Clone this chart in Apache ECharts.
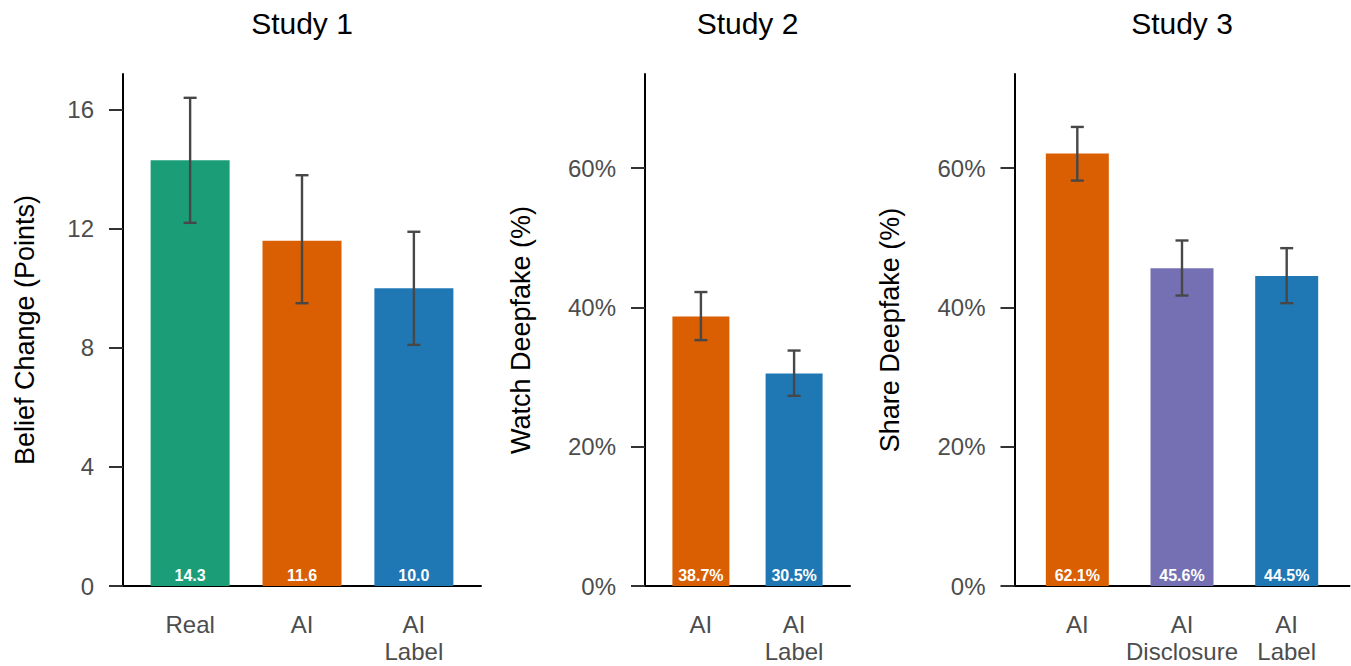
<!DOCTYPE html>
<html>
<head>
<meta charset="utf-8">
<script src="https://cdn.jsdelivr.net/npm/echarts@6/dist/echarts.min.js"></script>
<style>
html,body{margin:0;padding:0;background:#fff;}
#chart{width:1351px;height:666px;}
</style>
</head>
<body>
<div id="chart"></div>
<script>
// ---- Data ----
const study1Categories = ['Real', 'AI', 'AI\nLabel'];
const study1Values = [14.3, 11.6, 10.0];
const study1Low = [12.2, 9.5, 8.1];
const study1High = [16.4, 13.8, 11.9];
const study1Ticks = [0, 4, 8, 12, 16];

const study2Categories = ['AI', 'AI\nLabel'];
const study2Values = [38.7, 30.5];
const study2Low = [35.3, 27.3];
const study2High = [42.2, 33.8];
const study2Ticks = [0, 20, 40, 60];

const study3Categories = ['AI', 'AI\nDisclosure', 'AI\nLabel'];
const study3Values = [62.1, 45.6, 44.5];
const study3Low = [58.2, 41.7, 40.6];
const study3High = [65.9, 49.6, 48.5];
const study3Ticks = [0, 20, 40, 60];

const studyTitles = ['Study 1', 'Study 2', 'Study 3'];
const yAxisNames = ['Belief Change (Points)', 'Watch Deepfake (%)', 'Share Deepfake (%)'];

// ---- Styles ----
const GREEN = '#1b9e77', ORANGE = '#d95f02', BLUE = '#1f78b4', PURPLE = '#7570b3';
const panels = [
  {cats: study1Categories, vals: study1Values, low: study1Low, high: study1High, ticks: study1Ticks,
   colors: [GREEN, ORANGE, BLUE], pct: false, yMax: 17.2,
   grid: {left: 123, top: 74, width: 358, height: 512}, barWidth: 79, nameGap: 85},
  {cats: study2Categories, vals: study2Values, low: study2Low, high: study2High, ticks: study2Ticks,
   colors: [ORANGE, BLUE], pct: true, yMax: 73.5,
   grid: {left: 645, top: 74, width: 205, height: 512}, barWidth: 57, nameGap: 111},
  {cats: study3Categories, vals: study3Values, low: study3Low, high: study3High, ticks: study3Ticks,
   colors: [ORANGE, PURPLE, BLUE], pct: true, yMax: 73.5,
   grid: {left: 1014.5, top: 74, width: 335, height: 512}, barWidth: 63, nameGap: 111}
];

const FONT = '"Liberation Sans", Arial, Helvetica, sans-serif';
const grids = [], xAxes = [], yAxes = [], series = [], titles = [];

panels.forEach((p, i) => {
  grids.push(Object.assign({containLabel: false}, p.grid));
  const n = p.cats.length;
  const positions = p.cats.map((c, k) => k + 1);
  titles.push({
    text: studyTitles[i],
    left: p.grid.left + p.grid.width / 2,
    top: 8,
    textAlign: 'center',
    padding: 0,
    textStyle: {fontSize: 30, fontWeight: 'normal', color: '#000', fontFamily: FONT}
  });
  xAxes.push({
    gridIndex: i, type: 'value', min: 0.4, max: n + 0.6,
    axisLine: {show: true, onZero: false, lineStyle: {color: '#000', width: 2}},
    axisTick: {show: false},
    splitLine: {show: false},
    axisLabel: {
      customValues: positions,
      formatter: v => p.cats[Math.round(v) - 1] || '',
      color: '#4d4d4d', fontSize: 24, lineHeight: 27, margin: 25, fontFamily: FONT
    }
  });
  yAxes.push({
    gridIndex: i, type: 'value', min: 0, max: p.yMax,
    name: yAxisNames[i], nameLocation: 'middle', nameGap: p.nameGap,
    nameTextStyle: {fontSize: 27, color: '#000', fontFamily: FONT},
    axisLine: {show: true, onZero: false, lineStyle: {color: '#000', width: 2}},
    axisTick: {show: true, length: 14, customValues: p.ticks, lineStyle: {color: '#333', width: 2}},
    splitLine: {show: false},
    axisLabel: {
      customValues: p.ticks,
      formatter: v => p.pct ? v + '%' : String(v),
      color: '#4d4d4d', fontSize: 24, margin: 29, fontFamily: FONT
    }
  });
  series.push({
    type: 'bar', xAxisIndex: i, yAxisIndex: i, barWidth: p.barWidth,
    data: p.vals.map((v, k) => ({value: [k + 1, v], itemStyle: {color: p.colors[k]}})),
    label: {
      show: true, position: 'insideBottom', distance: 3,
      color: '#fff', fontWeight: 'bold', fontSize: 16, fontFamily: FONT,
      formatter: prm => prm.value[1].toFixed(1) + (p.pct ? '%' : '')
    },
    emphasis: {disabled: true},
    animation: false
  });
  series.push({
    type: 'custom', xAxisIndex: i, yAxisIndex: i, z: 5,
    data: p.low.map((l, k) => [k + 1, l, p.high[k]]),
    encode: {x: 0, y: [1, 2]},
    renderItem: (params, api) => {
      const x = api.value(0);
      const lo = api.coord([x, api.value(1)]);
      const hi = api.coord([x, api.value(2)]);
      const hw = 6.5;
      const st = {stroke: '#474747', lineWidth: 2.4};
      return {type: 'group', children: [
        {type: 'line', shape: {x1: lo[0], y1: lo[1], x2: hi[0], y2: hi[1]}, style: st},
        {type: 'line', shape: {x1: lo[0] - hw, y1: lo[1], x2: lo[0] + hw, y2: lo[1]}, style: st},
        {type: 'line', shape: {x1: hi[0] - hw, y1: hi[1], x2: hi[0] + hw, y2: hi[1]}, style: st}
      ]};
    },
    animation: false
  });
});

const chart = echarts.init(document.getElementById('chart'), null, {renderer: 'svg'});
chart.setOption({
  backgroundColor: '#fff',
  animation: false,
  textStyle: {fontFamily: FONT},
  title: titles,
  grid: grids,
  xAxis: xAxes,
  yAxis: yAxes,
  series: series
});
</script>
</body>
</html>
